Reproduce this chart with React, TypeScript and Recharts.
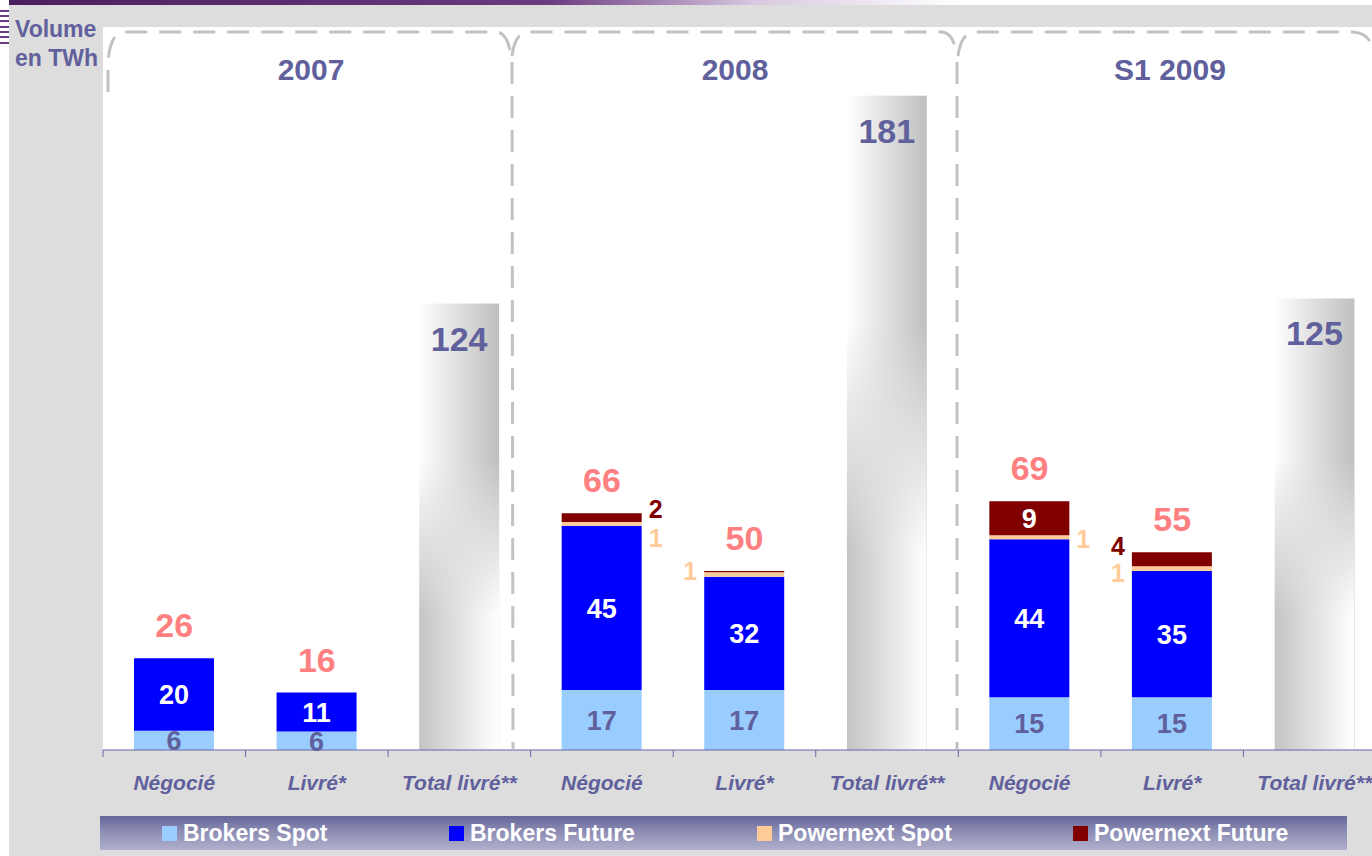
import React from "react";
import { ComposedChart, Bar, Line, XAxis, YAxis, LabelList } from "recharts";

// ---------- data ----------
const categories = ["Négocié", "Livré*", "Total livré**", "Négocié", "Livré*", "Total livré**", "Négocié", "Livré*", "Total livré**"];
const years = ["2007", "2008", "S1 2009"];
const seriesNames = ["Brokers Spot", "Brokers Future", "Powernext Spot", "Powernext Future"];

const brokersSpot = [5.3, 5.1, 0, 16.6, 16.6, 0, 14.6, 14.6, 0];
const brokersFuture = [20.1, 10.8, 0, 45.4, 31.3, 0, 43.7, 34.9, 0];
const powernextSpot = [0, 0, 0, 1.1, 1.3, 0, 1.1, 1.3, 0];
const powernextFuture = [0, 0, 0, 2.4, 0.3, 0, 9.4, 3.9, 0];
const totalDelivered = [0, 0, 123.5, 0, 0, 181, 0, 0, 124.9];

const spotLabels = ["6", "6", null, "17", "17", null, "15", "15", null];
const futureLabels = ["20", "11", null, "45", "32", null, "44", "35", null];
const pSpotLabels = [null, null, null, "1", "1", null, "1", "1", null];
const pFutureLabels = [null, null, null, "2", null, null, "9", "4", null];
const totalLabels = ["26", "16", null, "66", "50", null, "69", "55", null];
const deliveredLabels = [null, null, "124", null, null, "181", null, null, "125"];

// ---------- styles ----------
const FONT = "'Liberation Sans', Arial, Helvetica, sans-serif";
const PURPLE = "#60609c";
const SALMON = "#ff8080";
const C_SPOT = "#99ccff";
const C_FUT = "#0000ff";
const C_PSPOT = "#ffcc99";
const C_PFUT = "#800000";
const seriesColors = [C_SPOT, C_FUT, C_PSPOT, C_PFUT];
const legendOffsets = [62, 349, 657, 973];
const AXIS = "#6666aa";
const FS_SEG = 27;
const FS_SIDE = 25;

// label placement for the small Powernext labels (style config)
const pSpotPlacement: Record<number, { side: string; dy: number }> = {
  3: { side: "right", dy: 14 },
  4: { side: "left", dy: -3 },
  6: { side: "right", dy: 2 },
  7: { side: "left", dy: 4 },
};
const pFuturePlacement: Record<number, { side: string; dy: number }> = {
  3: { side: "right", dy: -9 },
  6: { side: "inside", dy: 0 },
  7: { side: "left", dy: -13 },
};

const data = categories.map((c, i) => {
  const stackTop = brokersSpot[i] + brokersFuture[i] + powernextSpot[i] + powernextFuture[i];
  return {
    idx: i,
    key: "k" + i,
    brokersSpot: brokersSpot[i],
    brokersFuture: brokersFuture[i],
    powernextSpot: powernextSpot[i],
    powernextFuture: powernextFuture[i],
    totalDelivered: totalDelivered[i],
    stackTop: totalLabels[i] != null ? stackTop : null,
  };
});

const num = (v: any) => Number(v) || 0;
const idxOf = (v: any) => Number(String(v).replace("k", ""));

const centerLabel = (labels: (string | null)[], color: string) => (p: any) => {
  if (p.value == null) return null;
  const i = idxOf(p.value);
  const txt = labels[i];
  if (txt == null) return null;
  const cx = num(p.x) + num(p.width) / 2;
  const cy = num(p.y) + num(p.height) / 2;
  return (
    <text x={cx} y={cy + 0.36 * FS_SEG} textAnchor="middle" fill={color} fontSize={FS_SEG} fontWeight="bold" fontFamily={FONT}>
      {txt}
    </text>
  );
};

const sideLabel = (labels: (string | null)[], placement: Record<number, { side: string; dy: number }>, color: string) => (p: any) => {
  if (p.value == null) return null;
  const i = idxOf(p.value);
  const txt = labels[i];
  const pl = placement[i];
  if (txt == null || !pl) return null;
  const x = num(p.x);
  const w = num(p.width);
  const cy = num(p.y) + num(p.height) / 2 + pl.dy;
  let tx = x + w / 2;
  let anchor: any = "middle";
  let fill = color;
  let fs = FS_SIDE;
  if (pl.side === "right") {
    tx = x + w + 7;
    anchor = "start";
  } else if (pl.side === "left") {
    tx = x - 7;
    anchor = "end";
  } else {
    fill = "#ffffff";
    fs = FS_SEG;
  }
  return (
    <text x={tx} y={cy + 0.36 * fs} textAnchor={anchor} fill={fill} fontSize={fs} fontWeight="bold" fontFamily={FONT}>
      {txt}
    </text>
  );
};

const totalLabel = (p: any) => {
  if (p.value == null) return null;
  const txt = totalLabels[idxOf(p.value)];
  if (txt == null) return null;
  return (
    <text x={num(p.x)} y={num(p.y) - 21} textAnchor="middle" fill={SALMON} fontSize={34} fontWeight="bold" fontFamily={FONT}>
      {txt}
    </text>
  );
};

const deliveredLabel = (p: any) => {
  if (p.value == null) return null;
  const txt = deliveredLabels[idxOf(p.value)];
  if (txt == null) return null;
  const cx = num(p.x) + num(p.width) / 2;
  return (
    <text x={cx} y={num(p.y) + 47} textAnchor="middle" fill={PURPLE} fontSize={34} fontWeight="bold" fontFamily={FONT}>
      {txt}
    </text>
  );
};

const DeliveredShape = (props: any) => {
  const { x, y, width, height } = props;
  if (!height || height <= 0) return null;
  return (
    <g>
      <rect x={x} y={y} width={width} height={height} fill="url(#gradTopLR)" />
      <rect x={x} y={y} width={width} height={height} fill="url(#gradBotLR)" mask="url(#vfadeMask)" />
    </g>
  );
};

const CategoryTick = (props: any) => {
  const { x, y, payload } = props;
  const off = payload && payload.offset ? payload.offset : 71.3;
  const idx = Number(payload.value);
  const axisY = y;
  return (
    <g>
      <line x1={x - off} x2={x - off} y1={axisY} y2={axisY + 7} stroke={AXIS} strokeWidth={1} />
      {idx === categories.length - 1 && <line x1={x + off} x2={x + off} y1={axisY} y2={axisY + 7} stroke={AXIS} strokeWidth={1} />}
      <text x={x} y={axisY + 40} textAnchor="middle" fill={PURPLE} fontSize={21} fontWeight="bold" fontStyle="italic" fontFamily={FONT}>
        {categories[idx]}
      </text>
    </g>
  );
};

const yearCenters = [311, 735, 1170];

export default function App() {
  return (
    <div style={{ position: "fixed", left: 0, top: 0, width: 1372, height: 856, overflow: "hidden", background: "#dddddd", fontFamily: FONT }}>
      {/* decorative top / left stripes */}
      <div style={{ position: "absolute", left: 0, top: 0, width: 1372, height: 5, background: "linear-gradient(90deg,#4a1f5e,#6b3a80 40%,#d8c8e0 55%,#ffffff 70%)" }} />
      <div style={{ position: "absolute", left: 0, top: 0, width: 9, height: 856, background: "#ffffff" }} />
      {[10, 15, 20, 26, 31, 36, 42].map((t, i) => (
        <div key={i} style={{ position: "absolute", left: 0, top: t, width: 9, height: 2, background: "#6a3d82" }} />
      ))}
      {/* white plot background */}
      <div style={{ position: "absolute", left: 103, top: 27, width: 1269, height: 723, background: "#ffffff" }} />

      {/* axis title */}
      <div style={{ position: "absolute", left: 15, top: 15, color: PURPLE, fontSize: 23, fontWeight: "bold", lineHeight: "29px" }}>
        Volume<br />en TWh
      </div>

      <div style={{ position: "absolute", left: 0, top: 0 }}>
        <ComposedChart width={1400} height={856} data={data} margin={{ top: 27, right: 14, left: 103, bottom: 56 }} barSize={80}>
          <defs>
            <linearGradient id="gradTopLR" x1="0" y1="0" x2="1" y2="0">
              <stop offset="0%" stopColor="#ffffff" />
              <stop offset="100%" stopColor="#bfbfbf" />
            </linearGradient>
            <linearGradient id="gradBotLR" x1="0" y1="0" x2="1" y2="0">
              <stop offset="0%" stopColor="#c4c4c4" />
              <stop offset="100%" stopColor="#ffffff" />
            </linearGradient>
            <linearGradient id="vfade" x1="0" y1="0" x2="0" y2="1">
              <stop offset="35%" stopColor="#000000" />
              <stop offset="70%" stopColor="#ffffff" />
            </linearGradient>
            <mask id="vfadeMask" maskContentUnits="objectBoundingBox">
              <rect x="0" y="0" width="1" height="1" fill="url(#vfade)" />
            </mask>
          </defs>
          <XAxis
            dataKey="idx"
            type="category"
            axisLine={{ stroke: AXIS, strokeWidth: 1 }}
            tickLine={false}
            tickSize={0}
            tickMargin={0}
            interval={0}
            height={50}
            tick={<CategoryTick />}
          />
          <YAxis hide domain={[0, 200]} type="number" />
          <Bar dataKey="brokersSpot" stackId="a" fill={C_SPOT} isAnimationActive={false}>
            <LabelList dataKey="key" content={centerLabel(spotLabels, PURPLE)} />
          </Bar>
          <Bar dataKey="brokersFuture" stackId="a" fill={C_FUT} isAnimationActive={false}>
            <LabelList dataKey="key" content={centerLabel(futureLabels, "#ffffff")} />
          </Bar>
          <Bar dataKey="powernextSpot" stackId="a" fill={C_PSPOT} isAnimationActive={false}>
            <LabelList dataKey="key" content={sideLabel(pSpotLabels, pSpotPlacement, C_PSPOT)} />
          </Bar>
          <Bar dataKey="powernextFuture" stackId="a" fill={C_PFUT} isAnimationActive={false}>
            <LabelList dataKey="key" content={sideLabel(pFutureLabels, pFuturePlacement, C_PFUT)} />
          </Bar>
          <Bar dataKey="totalDelivered" stackId="a" fill="#cccccc" shape={<DeliveredShape />} isAnimationActive={false}>
            <LabelList dataKey="key" content={deliveredLabel} />
          </Bar>
          <Line dataKey="stackTop" stroke="none" dot={false} activeDot={false} legendType="none" connectNulls={false} isAnimationActive={false}>
            <LabelList dataKey="key" content={totalLabel} />
          </Line>
        </ComposedChart>
      </div>

      {/* group brackets and year headers */}
      <svg width={1372} height={856} style={{ position: "absolute", left: 0, top: 0, pointerEvents: "none" }}>
        <g fill="none" stroke="#c2c2c2" strokeWidth={3} strokeDasharray="22 12">
          <path d="M 108 92 L 108 62 Q 110 33 124 32 L 498 32 Q 508 34 511 56" />
          <path d="M 512 62 L 513 750" />
          <path d="M 512 56 Q 515 34 526 32 L 943 32 Q 954 34 957 56" />
          <path d="M 957 62 L 957 750" />
          <path d="M 958 56 Q 961 34 973 32 L 1353 32 Q 1368 33 1372 46" />
        </g>
        {years.map((yr, i) => (
          <text key={yr} x={yearCenters[i]} y={80} textAnchor="middle" fill={PURPLE} fontSize={30} fontWeight="bold" fontFamily={FONT}>
            {yr}
          </text>
        ))}
      </svg>

      {/* legend */}
      <div
        style={{
          position: "absolute",
          left: 100,
          top: 816,
          width: 1247,
          height: 34,
          background: "linear-gradient(180deg,#66669a 0%,#8c8cb4 45%,#b0b0cc 100%)",
        }}
      >
        {seriesNames.map((n, i) => (
          <div key={n} style={{ position: "absolute", left: legendOffsets[i], top: 0, height: 34, display: "flex", alignItems: "center" }}>
            <div style={{ width: 15, height: 15, background: seriesColors[i], marginRight: 6 }} />
            <span style={{ color: "#ffffff", fontSize: 23, fontWeight: "bold", whiteSpace: "nowrap" }}>{n}</span>
          </div>
        ))}
      </div>
    </div>
  );
}
